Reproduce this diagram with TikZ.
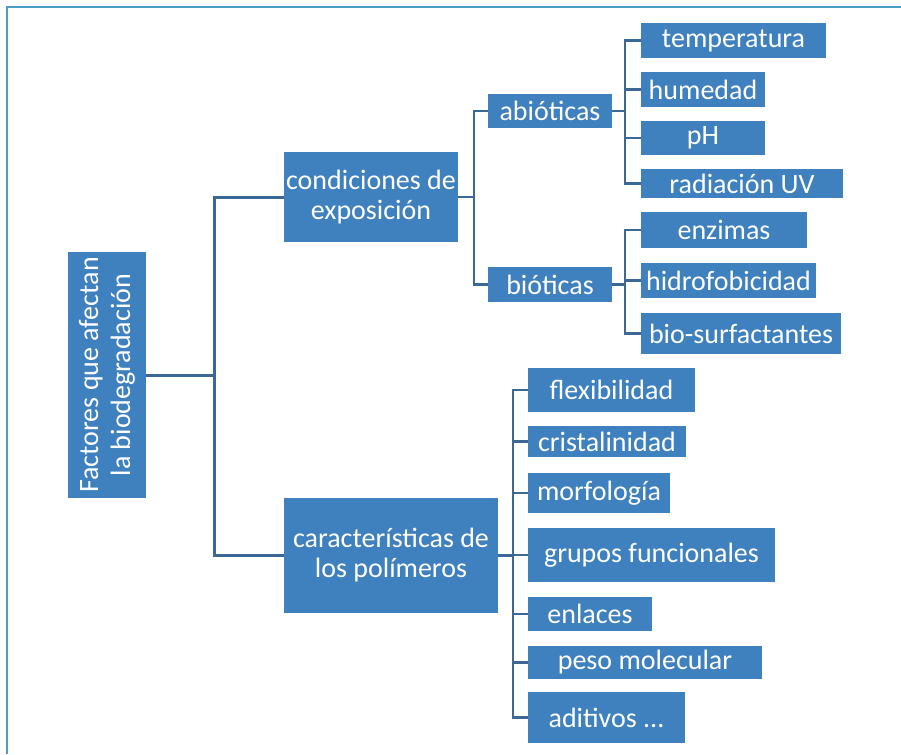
\documentclass[tikz,border=0pt]{standalone}
\usepackage{fontspec}
\newfontfamily\cf{Carlito}
\definecolor{boxblue}{HTML}{3F80BE}
\definecolor{linecol}{HTML}{3C6897}
\definecolor{framecol}{HTML}{4A9DC6}
\begin{document}
\begin{tikzpicture}[x=1pt,y=-1pt,
  box/.style={fill=boxblue, text=white, inner sep=0pt, align=center,
    font={\cf\fontsize{28}{30}\selectfont}},
  conn/.style={draw=linecol, line width=2.6pt},
  trunk/.style={draw=linecol, line width=3pt},
  framestyle/.style={draw=framecol, line width=1.5pt}]
\useasboundingbox (0,0) rectangle (901,754);
% frame
\coordinate (fa) at (901,7);
\coordinate (fb) at (7,7);
\coordinate (fc) at (7,754);
\draw[framestyle] (fa) -- (fb) -- (fc);
% nodes
\node[box, rotate=90, minimum width=246pt, minimum height=78pt,
  font={\cf\fontsize{28}{32}\selectfont}] (root) at (107,375) {Factores que afectan\\la biodegradación};
\node[box, minimum width=174pt, minimum height=90pt] (cond) at (371,197) {condiciones de\\exposición};
\node[box, minimum width=214pt, minimum height=115pt] (car) at (391,555.5) {características de\\los polímeros};
\node[box, minimum width=124pt, minimum height=34pt] (abio) at (550,111) {abióticas};
\node[box, minimum width=124pt, minimum height=35pt] (bio) at (550,284.5) {bióticas};
\node[box, minimum width=185pt, minimum height=35pt] (temp) at (733.5,40.5) {temperatura};
\node[box, minimum width=124pt, minimum height=35pt] (hum) at (703,89.5) {humedad};
\node[box, minimum width=124pt, minimum height=34pt] (ph) at (703,138) {pH};
\node[box, minimum width=202pt, minimum height=29pt] (rad) at (742,183.5) {radiación UV};
\node[box, minimum width=166pt, minimum height=36pt] (enz) at (724,230) {enzimas};
\node[box, minimum width=175pt, minimum height=35pt] (hid) at (728.5,280.5) {hidrofobicidad};
\node[box, minimum width=200pt, minimum height=41pt] (bs) at (741,333.5) {bio-surfactantes};
\node[box, minimum width=167pt, minimum height=44pt] (flex) at (611.5,390) {flexibilidad};
\node[box, minimum width=158pt, minimum height=31pt] (cris) at (607,441.5) {cristalinidad};
\node[box, minimum width=142pt, minimum height=40pt] (morf) at (599,493) {morfología};
\node[box, minimum width=247pt, minimum height=54pt] (grup) at (651.5,555) {grupos funcionales};
\node[box, minimum width=124pt, minimum height=34pt] (enl) at (590,614) {enlaces};
\node[box, minimum width=234pt, minimum height=33pt] (peso) at (645,662.5) {peso molecular};
\node[box, minimum width=157pt, minimum height=51pt] (adit) at (606.5,717.5) {aditivos ...};
% connectors: root (rotated node: its south anchor faces right)
\coordinate (j1) at (214,375);
\draw[trunk] (root.south) -- (j1);
\draw[trunk] (cond.west) -| (j1) |- (car.west);
% condiciones
\draw[conn] (cond.east) -- ++(16,0);
\draw[conn] (abio.west) -- ++(-14,0) |- (bio.west);
% abioticas
\draw[conn] (abio.east) -- ++(13,0);
\draw[conn] (temp.west) -- ++(-16,0) |- (rad.west);
\draw[conn] (hum.west) -- ++(-16,0);
\draw[conn] (ph.west) -- ++(-16,0);
% bioticas
\draw[conn] (bio.east) -- ++(13,0);
\draw[conn] (enz.west) -- ++(-16,0) |- (bs.west);
\draw[conn] (hid.west) -- ++(-16,0);
% caracteristicas
\draw[conn] (car.east) -- ++(15,0);
\draw[conn] (flex.west) -- ++(-15,0) |- (adit.west);
\draw[conn] (cris.west) -- ++(-15,0);
\draw[conn] (morf.west) -- ++(-15,0);
\draw[conn] (grup.west) -- ++(-15,0);
\draw[conn] (enl.west) -- ++(-15,0);
\draw[conn] (peso.west) -- ++(-15,0);
\end{tikzpicture}
\end{document}
